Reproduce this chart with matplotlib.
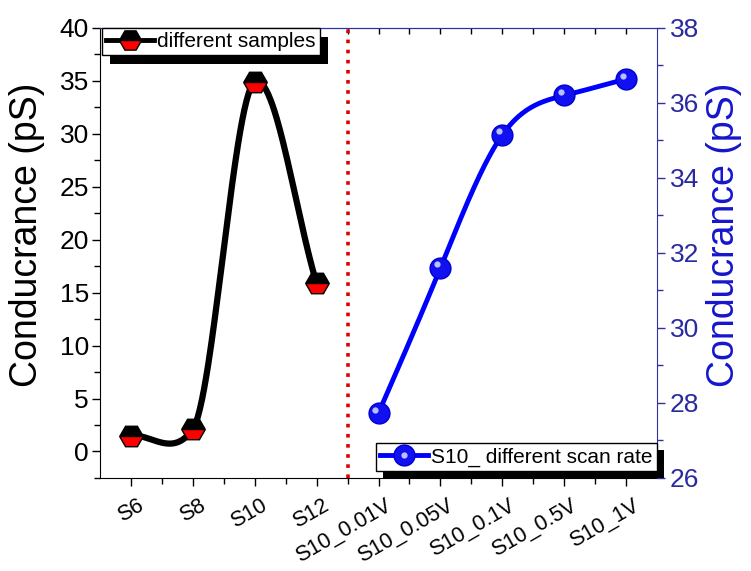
import numpy as np
import matplotlib
matplotlib.use("Agg")
from matplotlib import pyplot as plt
from matplotlib import transforms as mtransforms
from matplotlib.patches import Rectangle
from matplotlib.legend_handler import HandlerTuple

plt.rcParams['font.family'] = ['Liberation Sans', 'DejaVu Sans']

# data
tick_labels = ['S6', 'S8', 'S10', 'S12', 'S10_0.01V', 'S10_0.05V',
               'S10_0.1V', 'S10_0.5V', 'S10_1V']
tick_pos = [1, 2, 3, 4, 5, 6, 7, 8, 9]
samples_x = [1, 2, 3, 4]
samples_y = [1.5, 2.1, 34.9, 15.9]
rate_x = [5, 6, 7, 8, 9]
rate_y = [27.73, 31.6, 35.15, 36.2, 36.64]
divider_x = 4.5


def hermite(x, y, m, n=60):
    xs, ys = [], []
    for i in range(len(x) - 1):
        h = x[i + 1] - x[i]
        t = np.linspace(0, 1, n, endpoint=(i == len(x) - 2))
        h00 = 2 * t**3 - 3 * t**2 + 1
        h10 = t**3 - 2 * t**2 + t
        h01 = -2 * t**3 + 3 * t**2
        h11 = t**3 - t**2
        xs.append(x[i] + t * h)
        ys.append(h00 * y[i] + h10 * h * m[i] + h01 * y[i + 1] + h11 * h * m[i + 1])
    return np.concatenate(xs), np.concatenate(ys)


def cardinal_spline(x, y, tension=0.5):
    x = np.asarray(x, float)
    y = np.asarray(y, float)
    k = len(x)
    m = np.zeros(k)
    m[0] = (y[1] - y[0]) / (x[1] - x[0])
    m[-1] = (y[-1] - y[-2]) / (x[-1] - x[-2])
    for i in range(1, k - 1):
        m[i] = (1 - tension) * (y[i + 1] - y[i - 1]) / (x[i + 1] - x[i - 1])
    return hermite(x, y, m)


def natural_spline(x, y):
    x = np.asarray(x, float)
    y = np.asarray(y, float)
    k = len(x)
    h = np.diff(x)
    A = np.zeros((k, k))
    b = np.zeros(k)
    A[0, 0] = 2 / h[0]
    A[0, 1] = 1 / h[0]
    b[0] = 3 * (y[1] - y[0]) / h[0] ** 2
    A[-1, -2] = 1 / h[-1]
    A[-1, -1] = 2 / h[-1]
    b[-1] = 3 * (y[-1] - y[-2]) / h[-1] ** 2
    for i in range(1, k - 1):
        A[i, i - 1] = 1 / h[i - 1]
        A[i, i] = 2 / h[i - 1] + 2 / h[i]
        A[i, i + 1] = 1 / h[i]
        b[i] = 3 * ((y[i] - y[i - 1]) / h[i - 1] ** 2 + (y[i + 1] - y[i]) / h[i] ** 2)
    m = np.linalg.solve(A, b)
    return hermite(x, y, m)


blue_axis = '#3030a0'
blue_text = '#2a2aa0'

fig = plt.figure(figsize=(7.51, 5.71), dpi=100)
ax = fig.add_axes([0.133, 0.163, 0.742, 0.788])
ax2 = ax.twinx()

# black series (left axis)
sx, sy = cardinal_spline(samples_x, samples_y, tension=0.5)
ax.plot(sx, sy, color='black', lw=4.5, solid_capstyle='round', zorder=3)
ax.plot(samples_x, samples_y, linestyle='none', marker='H', ms=17,
        fillstyle='bottom', markerfacecolor='red', markerfacecoloralt='black',
        markeredgecolor='black', markeredgewidth=1, zorder=4)
leg1_handle = plt.Line2D([], [], color='black', lw=3.5, marker='H', ms=16,
                         fillstyle='bottom', markerfacecolor='red',
                         markerfacecoloralt='black', markeredgecolor='black')

ax.axvline(divider_x, color='#e00000', lw=2.6, linestyle=(0, (1, 1.8)),
           dash_capstyle='butt', zorder=2)

# blue series (right axis)
rx, ry = natural_spline(rate_x, rate_y)
ax2.plot(rx, ry, color='#0000ff', lw=3.5, zorder=3)
ax2.plot(rate_x, rate_y, linestyle='none', marker='o', ms=15,
         color='#1010f0', markeredgecolor='#0000d0', zorder=4)
shift = mtransforms.ScaledTranslation(-2.5 / 72, 2.5 / 72, fig.dpi_scale_trans)
ax2.plot(rate_x, rate_y, linestyle='none', marker='o', ms=4.5,
         color='#b8c0ff', markeredgewidth=0,
         transform=ax2.transData + shift, zorder=5)
leg2_line = plt.Line2D([], [], color='#0000ff', lw=3.5, marker='o', ms=15,
                       markerfacecolor='#1010f0', markeredgecolor='#0000d0')
leg2_hl = plt.Line2D([], [], linestyle='none', marker='o', ms=4.5,
                     color='#b8c0ff', markeredgewidth=0)

# axes limits and ticks
ax.set_xlim(0.5, 9.5)
ax.set_ylim(-2.5, 40)
ax2.set_ylim(26, 38)
ax.set_xticks(tick_pos)
ax.set_xticks(np.arange(1.5, 9.5, 1), minor=True)
ax.set_xticklabels([])
# rotated tick labels placed by hand so they can sit a bit right of the tick
lab_trans = (mtransforms.blended_transform_factory(ax.transData, ax.transAxes) +
             mtransforms.ScaledTranslation(0.06, -0.17, fig.dpi_scale_trans))
for xp, lab in zip(tick_pos, tick_labels):
    ax.text(xp, 0, lab, transform=lab_trans, rotation=30, ha='right',
            va='top', rotation_mode='anchor', fontsize=15.5, clip_on=False)

ax.set_yticks(range(0, 41, 5))
ax.set_yticks(np.arange(-2.5, 40, 5), minor=True)
ax2.set_yticks(range(26, 39, 2))
ax2.set_yticks(range(27, 38, 2), minor=True)

ax.tick_params(axis='both', which='major', direction='out', length=6,
               width=1)
ax.tick_params(axis='y', which='major', labelsize=19, pad=2)
ax.tick_params(axis='both', which='minor', direction='out', length=4, width=1)
ax.tick_params(axis='x', which='both', top=True, labeltop=False)
ax2.tick_params(axis='y', which='major', direction='out', length=6, width=1,
                colors=blue_axis, labelsize=19, labelcolor=blue_text, pad=3)
ax2.tick_params(axis='y', which='minor', direction='out', length=4, width=1,
                colors=blue_axis)

# top ticks in blue pointing into the plot
for t in ax.xaxis.get_major_ticks() + ax.xaxis.get_minor_ticks():
    t.tick2line.set_color(blue_axis)
    t.tick2line.set_marker(3)
    t.tick2line.set_markersize(4)

ax.spines['top'].set_color(blue_axis)
ax2.spines['top'].set_color(blue_axis)
ax2.spines['right'].set_color(blue_axis)
ax2.spines['left'].set_visible(False)
ax2.spines['bottom'].set_visible(False)
ax.spines['right'].set_visible(False)

ax.set_ylabel('Conducrance (pS)', fontsize=27)
ax2.set_ylabel('Conducrance (pS)', fontsize=27, color='#1515cc')
ax.yaxis.set_label_coords(-0.098, 0.54)
ax2.yaxis.set_label_coords(1.088, 0.54)

# legends (both on the top axes so they sit above every line)
leg_kw = dict(fontsize=15, frameon=True, fancybox=False, edgecolor='black',
              framealpha=1, handlelength=2.3, handletextpad=0.15,
              borderpad=0.2, borderaxespad=0.0)
leg1 = ax2.legend([leg1_handle], ['different samples'], loc='upper left',
                  bbox_to_anchor=(0.004, 1.0), **leg_kw)
leg1.get_frame().set_linewidth(1)
ax2.add_artist(leg1)
leg2 = ax2.legend([(leg2_line, leg2_hl)], ['S10_ different scan rate'],
                  handler_map={tuple: HandlerTuple(ndivide=1)},
                  loc='lower right', bbox_to_anchor=(1.0, 0.016), **leg_kw)
leg2.get_frame().set_linewidth(1)
leg1.set_zorder(10)
leg2.set_zorder(10)

# solid black drop shadows behind legend boxes
fig.canvas.draw()
for lg, (ox, oy) in ((leg1, (8, -9)), (leg2, (7, -7))):
    bb = lg.get_frame().get_window_extent()
    r = Rectangle((bb.x0 + ox, bb.y0 + oy), bb.width, bb.height,
                  transform=mtransforms.IdentityTransform(),
                  facecolor='black', edgecolor='none', zorder=9,
                  clip_on=False)
    ax2.add_patch(r)

fig.savefig('out.png', dpi=100)
